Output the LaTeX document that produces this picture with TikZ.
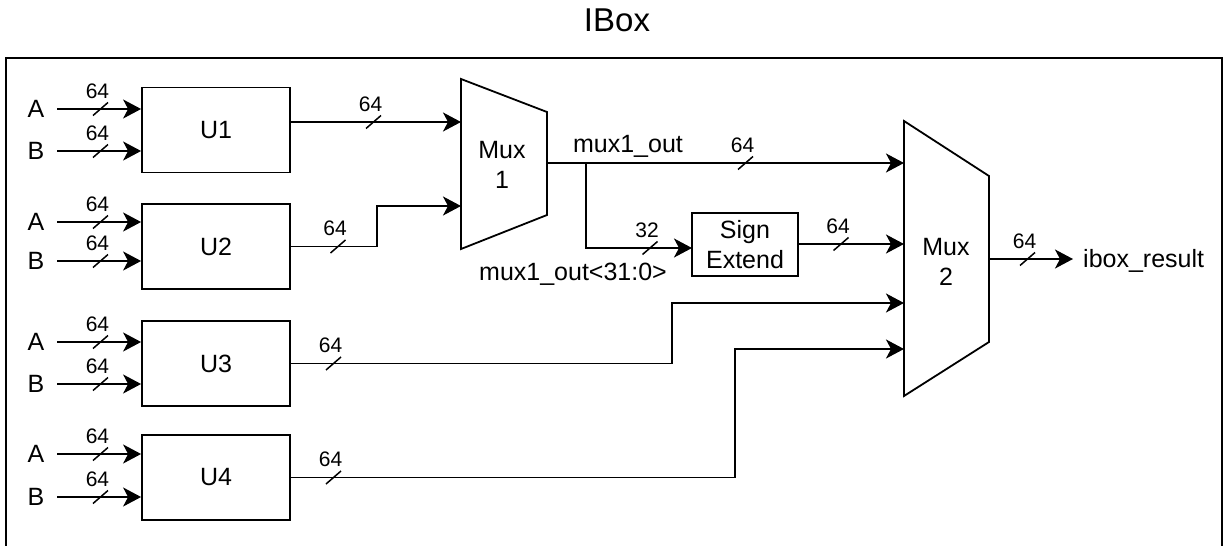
\documentclass[tikz,border=0pt]{standalone}
\usepackage{fontspec}
\setmainfont{Liberation Sans}
\usetikzlibrary{arrows.meta}
\newcommand\busmark[4]{%
  \coordinate (#1) at (#2,#3);
  \draw[slashln] ([shift={(-7.5,6.5)}]#1) -- ([shift={(7.5,-6.5)}]#1);
  \node[buslbl] (#1l) at ([shift={(-3,-18)}]#1) {#4};}
\begin{document}
\begin{tikzpicture}[x=1pt,y=-1pt,
  wire/.style={line width=1.8pt},
  arr/.style={wire,-{Stealth[length=18pt,width=19pt,inset=5pt]}},
  blk/.style={draw,line width=1.8pt,minimum width=148pt,minimum height=85pt,inner sep=0pt,font=\fontsize{25}{30}\selectfont},
  txt/.style={inner sep=0pt,font=\fontsize{25}{30}\selectfont},
  buslbl/.style={inner sep=0pt,font=\fontsize{21}{24}\selectfont},
  slashln/.style={line width=1.5pt},
  frame/.style={line width=2pt},
  muxshape/.style={line width=1.8pt,line join=miter},
]
\useasboundingbox (0,0) rectangle (1224,546);

% title and frame
\node[inner sep=0pt,font=\fontsize{33}{36}\selectfont] (title) at (617,20) {IBox};
\draw[frame] (6,546) -- (6,58) -- (1222,58) -- (1222,546);

% blocks
\node[blk] (u1) at (216,130) {\raisebox{-2pt}{U1}};
\node[blk] (u2) at (216,246.5) {\raisebox{-2pt}{U2}};
\node[blk] (u3) at (216,363.5) {\raisebox{-2pt}{U3}};
\node[blk] (u4) at (216,477.5) {\raisebox{-2pt}{U4}};

% inputs
\foreach \b/\ya/\yb in {1/109/151, 2/222/261, 3/342/384, 4/454/497} {
  \node[txt] (a\b) at (36,\ya) {A};
  \node[txt] (b\b) at (36,\yb) {B};
  \coordinate (as\b) at (57,\ya);
  \coordinate (bs\b) at (57,\yb);
  \draw[arr] (as\b) -- (u\b.west |- as\b);
  \draw[arr] (bs\b) -- (u\b.west |- bs\b);
  \busmark{am\b}{100.5}{\ya}{64}
  \busmark{bm\b}{100.5}{\yb}{64}
}

% Mux 1
\coordinate (m1tl) at (461,79);
\coordinate (m1tr) at (547,112);
\coordinate (m1br) at (547,215);
\coordinate (m1bl) at (461,249);
\draw[muxshape] (m1tl) -- (m1tr) -- (m1br) -- (m1bl) -- cycle;
\node[txt,align=center] (mux1) at (502,165) {Mux\\1};

% Mux 2
\coordinate (m2tl) at (904,121);
\coordinate (m2tr) at (989,176);
\coordinate (m2br) at (989,342);
\coordinate (m2bl) at (904,396);
\draw[muxshape] (m2tl) -- (m2tr) -- (m2br) -- (m2bl) -- cycle;
\node[txt,align=center] (mux2) at (946,262) {Mux\\2};

% Sign extend
\node[draw,line width=1.8pt,minimum width=106pt,minimum height=63pt,inner sep=0pt,
      font=\fontsize{25}{30}\selectfont,align=center] (se) at (745,244.5) {Sign\\Extend};

% U1 -> Mux1
\coordinate (m1in1) at (461,122);
\draw[arr] (u1.east |- m1in1) -- (m1in1);
\busmark{u1m}{373.5}{122}{64}

% U2 -> Mux1
\coordinate (m1in2) at (461,206);
\draw[arr] (u2.east) -- ++(86,0) |- (m1in2);
\busmark{u2m}{338}{246.5}{64}

% Mux1 out
\coordinate (m1out) at (547,163);
\coordinate (m2in1) at (904,163);
\draw[arr] (m1out) -- (m2in1);
\busmark{m1m}{745.5}{163}{64}
\node[txt,anchor=base] (m1lbl) at (628,152) {mux1\_out};

\coordinate (jn) at (586,163);
\coordinate (sein) at (692,248);
\draw[arr] (jn) |- (sein);
\busmark{sem}{650}{248}{32}
\node[txt,anchor=base] (m1sub) at (573,280) {mux1\_out<31:0>};

% Sign extend -> Mux2
\coordinate (m2in2) at (904,244);
\draw[arr] (se.east |- m2in2) -- (m2in2);
\busmark{sem2}{841}{244}{64}

% U3 -> Mux2
\coordinate (m2in3) at (904,303);
\draw[arr] (u3.east) -- ++(381,0) |- (m2in3);
\busmark{u3m}{333.5}{363.5}{64}

% U4 -> Mux2
\coordinate (m2in4) at (904,349);
\draw[arr] (u4.east) -- ++(444,0) |- (m2in4);
\busmark{u4m}{333.5}{477.5}{64}

% Mux2 out
\coordinate (m2out) at (989,259);
\coordinate (resin) at (1073,259);
\draw[arr] (m2out) -- (resin);
\busmark{m2m}{1027.5}{259}{64}
\node[txt,anchor=base west] (res) at (1083,267) {ibox\_result};
\end{tikzpicture}
\end{document}
